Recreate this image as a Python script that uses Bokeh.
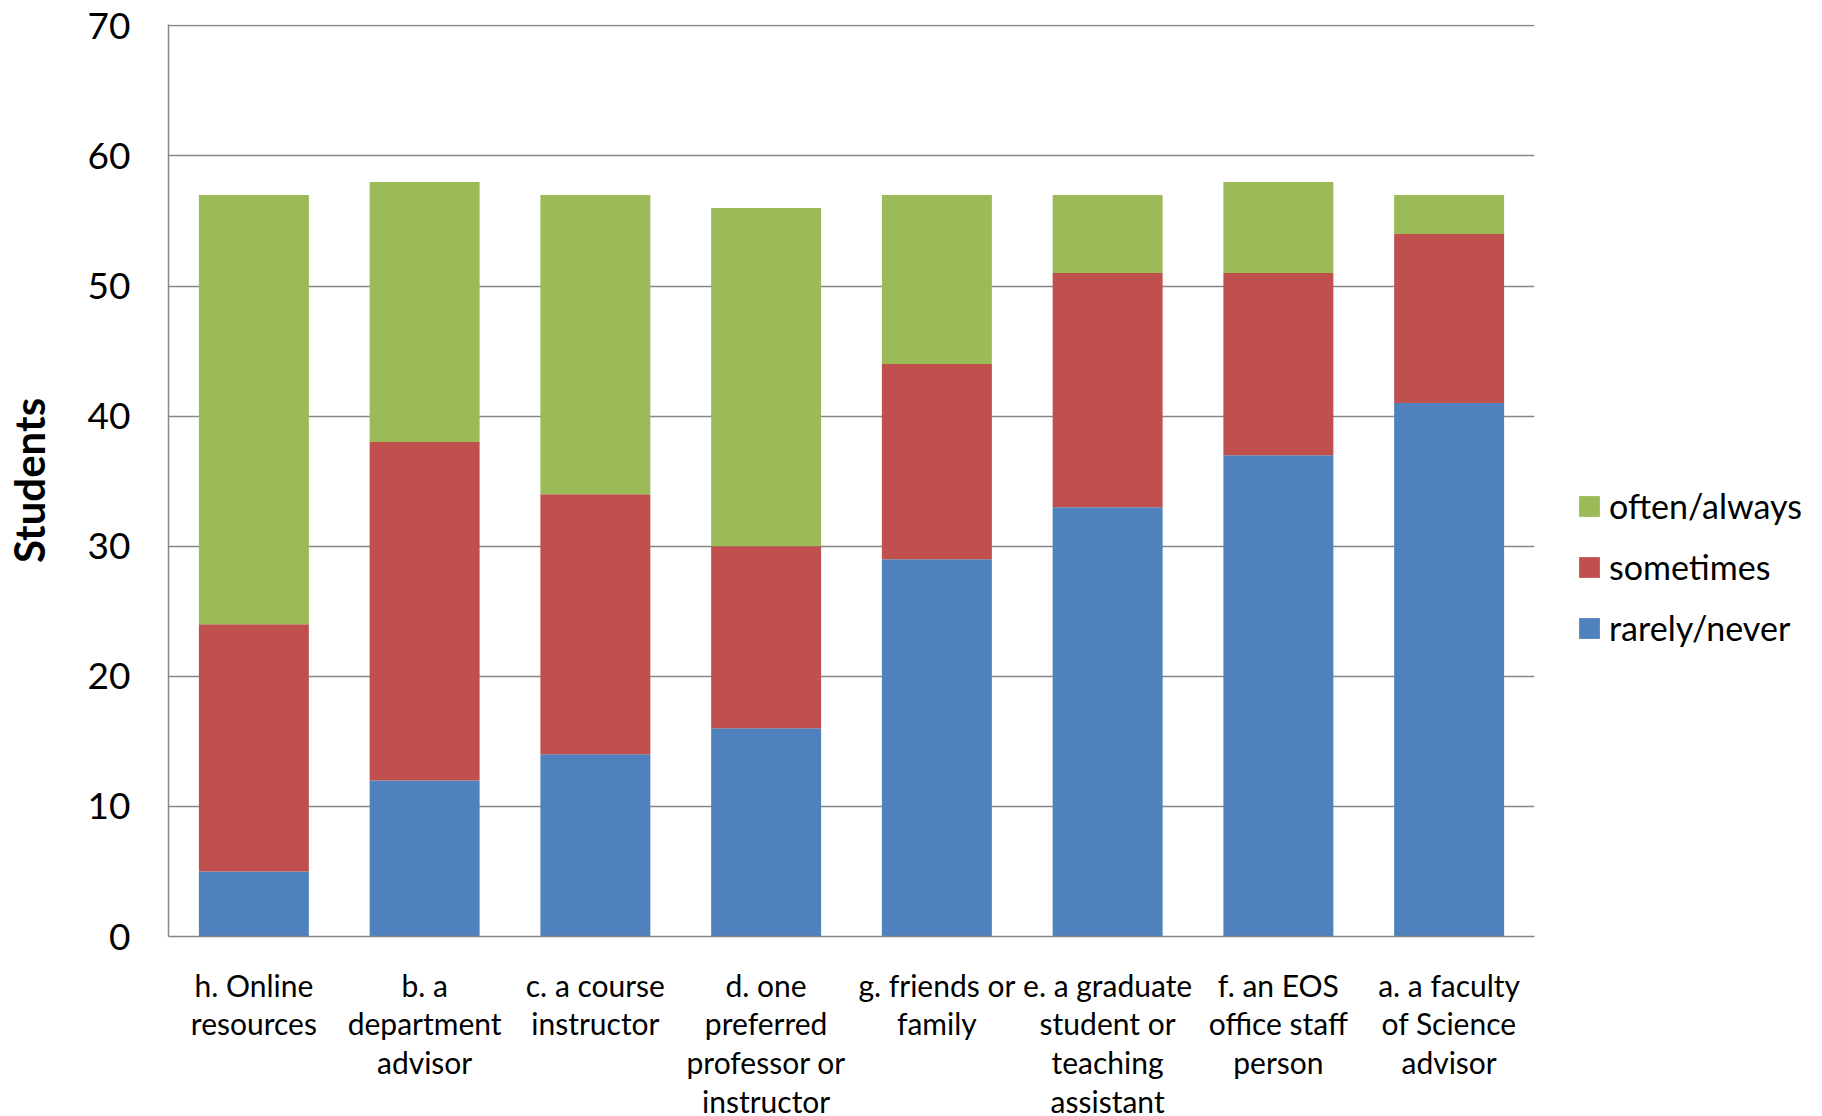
from bokeh.plotting import figure
from bokeh.models import FactorRange, Range1d, FixedTicker, Legend, LegendItem
from bokeh.embed import file_html
from bokeh.resources import INLINE

categories = [
    "h. Online\nresources",
    "b. a\ndepartment\nadvisor",
    "c. a course\ninstructor",
    "d. one\npreferred\nprofessor or\ninstructor",
    "g. friends or\nfamily",
    "e. a graduate\nstudent or\nteaching\nassistant",
    "f. an EOS\noffice staff\nperson",
    "a. a faculty\nof Science\nadvisor",
]
rarely_never = [5, 12, 14, 16, 29, 33, 37, 41]
sometimes = [19, 26, 20, 14, 15, 18, 14, 13]
often_always = [33, 20, 23, 26, 13, 6, 7, 3]
series_names = ["rarely_never", "sometimes", "often_always"]
series_labels = ["rarely/never", "sometimes", "often/always"]
colors = ["#4F81BD", "#C0504D", "#9BBB59"]
y_ticks = [0, 10, 20, 30, 40, 50, 60, 70]

data = dict(cat=categories, rarely_never=rarely_never, sometimes=sometimes,
            often_always=often_always)

p = figure(x_range=FactorRange(factors=categories), y_range=Range1d(0, 70.1),
           frame_width=1366, frame_height=912,
           min_border_left=160, min_border_top=24, min_border_right=280,
           min_border_bottom=168,
           output_backend="svg", toolbar_location=None)

renderers = p.vbar_stack(series_names, x="cat", width=0.644, source=data,
                         color=colors, line_color=None)

p.outline_line_color = None
p.background_fill_color = "white"
p.border_fill_color = "white"

p.xgrid.grid_line_color = None
p.ygrid.grid_line_color = "#868686"
p.ygrid.grid_line_width = 1.5
p.yaxis.ticker = FixedTicker(ticks=y_ticks)

for ax in (p.xaxis[0], p.yaxis[0]):
    ax.axis_line_color = "#868686"
    ax.axis_line_width = 1.5
    ax.major_tick_line_color = None
    ax.minor_tick_line_color = None
    ax.major_tick_out = 0
    ax.major_tick_in = 0
    ax.major_label_text_color = "black"

p.yaxis.major_label_text_font = "Lato"
p.yaxis.major_label_text_font_size = "37px"
p.yaxis.major_label_standoff = 38
p.yaxis.axis_label = "Students"
p.yaxis.axis_label_text_font = "Lato"
p.yaxis.axis_label_text_font_style = "bold"
p.yaxis.axis_label_text_font_size = "42px"
p.yaxis.axis_label_text_color = "black"
p.yaxis.axis_label_standoff = 31

p.xaxis.major_label_text_font = "Lato"
p.xaxis.major_label_text_font_size = "30px"
p.xaxis.major_label_text_line_height = 1.08
p.xaxis.major_label_standoff = 30

items = [LegendItem(label=series_labels[i], renderers=[renderers[i]]) for i in (2, 1, 0)]
legend = Legend(items=items, location=(42, 288), orientation="vertical",
                label_text_font="Lato", label_text_font_size="34px",
                label_text_color="black",
                glyph_width=26, glyph_height=26, label_standoff=7,
                spacing=20, padding=0, margin=0,
                border_line_color=None, background_fill_alpha=0)
p.add_layout(legend, "right")

open("out.html", "w").write(file_html(p, INLINE))
